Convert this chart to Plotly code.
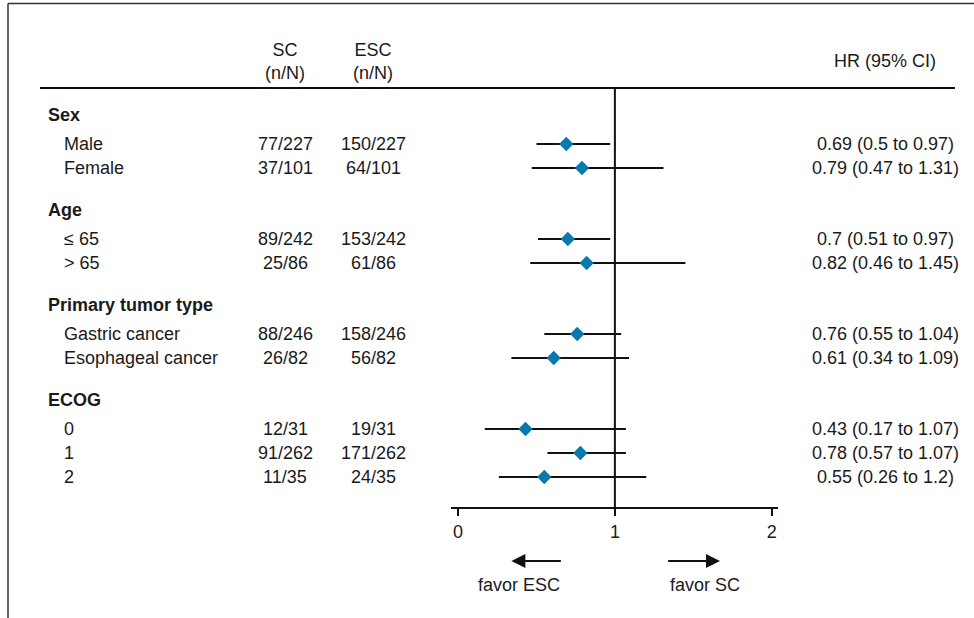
import plotly.graph_objects as go

# ---------------- data ----------------
groups = ["Sex", "Age", "Primary tumor type", "ECOG"]
subgroups = [["Male", "Female"], ["≤ 65", "> 65"],
             ["Gastric cancer", "Esophageal cancer"], ["0", "1", "2"]]
sc_counts = ["77/227", "37/101", "89/242", "25/86", "88/246", "26/82", "12/31", "91/262", "11/35"]
esc_counts = ["150/227", "64/101", "153/242", "61/86", "158/246", "56/82", "19/31", "171/262", "24/35"]
hr = [0.69, 0.79, 0.7, 0.82, 0.76, 0.61, 0.43, 0.78, 0.55]
ci_low = [0.5, 0.47, 0.51, 0.46, 0.55, 0.34, 0.17, 0.57, 0.26]
ci_high = [0.97, 1.31, 0.97, 1.45, 1.04, 1.09, 1.07, 1.07, 1.2]
x_ticks = [0, 1, 2]

# ---------------- layout helpers ----------------
W, H = 974, 618
FONT = "Liberation Sans, Arial, Helvetica, sans-serif"
FS = 18
TXT = "#1a1a1a"

header_y = []
item_y = []
item_labels = []
for g, subs in enumerate(subgroups):
    hy = 115 + 95 * g
    header_y.append(hy)
    for k, s in enumerate(subs):
        item_y.append(hy + 29 + 24 * k)
        item_labels.append(s)

hr_text = [f"{h} ({l} to {u})" for h, l, u in zip(hr, ci_low, ci_high)]

fig = go.Figure()

fig.add_trace(go.Scatter(
    x=hr, y=item_y, mode="markers",
    marker=dict(symbol="diamond", size=11, color="#0779AD"),
    error_x=dict(type="data", symmetric=False,
                 array=[u - h for u, h in zip(ci_high, hr)],
                 arrayminus=[h - l for h, l in zip(hr, ci_low)],
                 width=0, thickness=2, color="#111111"),
    showlegend=False, hoverinfo="skip",
))

ann = []
def txt(x, y, s, anchor="center", bold=False, align="center"):
    ann.append(dict(x=x / W, xref="paper", y=y, yref="y", text=f"<b>{s}</b>" if bold else s,
                    showarrow=False, xanchor=anchor, yanchor="middle", align=align,
                    font=dict(family=FONT, size=FS, color=TXT)))

# column headers
txt(285, 61, "SC<br>(n/N)")
txt(373, 61, "ESC<br>(n/N)")
txt(885, 61, "HR (95% CI)")

for g, hy in zip(groups, header_y):
    txt(46, hy, g, anchor="left", bold=True)
for lab, y, s1, s2, t in zip(item_labels, item_y, sc_counts, esc_counts, hr_text):
    txt(62, y, lab, anchor="left")
    txt(285, y, s1)
    txt(373, y, s2)
    txt(885, y, t)

# arrows and favour labels
ann.append(dict(x=0.34, y=561, xref="x", yref="y", ax=0.665, ay=561, axref="x", ayref="y",
                text="", showarrow=True, arrowhead=2, arrowsize=1.4, arrowwidth=2, arrowcolor="#111111"))
ann.append(dict(x=1.67, y=561, xref="x", yref="y", ax=1.33, ay=561, axref="x", ayref="y",
                text="", showarrow=True, arrowhead=2, arrowsize=1.4, arrowwidth=2, arrowcolor="#111111"))
ann.append(dict(x=0.39, y=585, xref="x", yref="y", text="favor ESC", showarrow=False,
                xanchor="center", yanchor="middle", font=dict(family=FONT, size=FS, color=TXT)))
ann.append(dict(x=1.575, y=585, xref="x", yref="y", text="favor SC", showarrow=False,
                xanchor="center", yanchor="middle", font=dict(family=FONT, size=FS, color=TXT)))

shapes = [
    # frame (top and left)
    dict(type="line", xref="paper", yref="paper", x0=8 / W, x1=1, y0=1 - 3.5 / H, y1=1 - 3.5 / H,
         line=dict(color="#333333", width=1.5)),
    dict(type="line", xref="paper", yref="paper", x0=8 / W, x1=8 / W, y0=0, y1=1 - 3.5 / H,
         line=dict(color="#333333", width=1.5)),
    # header rule
    dict(type="line", xref="paper", yref="y", x0=40 / W, x1=955 / W, y0=88, y1=88,
         line=dict(color="#111111", width=2)),
    # line of no effect
    dict(type="line", xref="x", yref="y", x0=1, x1=1, y0=88, y1=508,
         line=dict(color="#111111", width=2)),
]

fig.update_layout(
    width=W, height=H, margin=dict(l=0, r=0, t=0, b=0),
    paper_bgcolor="white", plot_bgcolor="white",
    font=dict(family=FONT, size=FS, color=TXT),
    xaxis=dict(domain=[451 / W, 778 / W], range=[-0.045, 2.04], anchor="free",
               position=(H - 508) / H, showline=True, linecolor="#111111", linewidth=2,
               ticks="outside", ticklen=7, tickwidth=2, tickcolor="#111111",
               tickvals=x_ticks, ticktext=[str(v) for v in x_ticks],
               tickfont=dict(family=FONT, size=FS, color=TXT),
               showgrid=False, zeroline=False, fixedrange=True),
    yaxis=dict(domain=[0, 1], range=[H, 0], visible=False, showgrid=False,
               zeroline=False, fixedrange=True),
    annotations=ann, shapes=shapes,
)

fig.write_html("out.html")
